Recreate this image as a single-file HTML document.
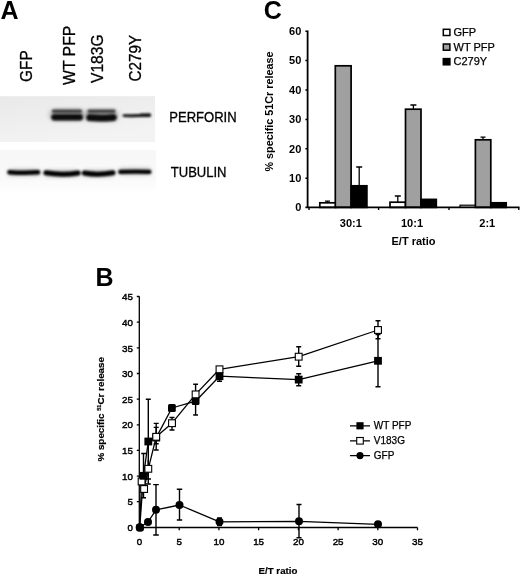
<!DOCTYPE html>
<html><head><meta charset="utf-8"><title>Figure</title>
<style>
html,body{margin:0;padding:0;background:#fff;}
svg{display:block}
text{font-family:"Liberation Sans",Arial,sans-serif;fill:#000}
.b{font-weight:bold}
</style></head><body>
<svg width="520" height="577" viewBox="0 0 520 577">
<defs>
<filter id="bl" x="-20%" y="-100%" width="140%" height="300%"><feGaussianBlur stdDeviation="0.9"/></filter>
<filter id="bl2" x="-20%" y="-100%" width="140%" height="300%"><feGaussianBlur stdDeviation="0.6"/></filter>
<filter id="tb" x="-5%" y="-5%" width="110%" height="110%"><feGaussianBlur stdDeviation="0.35"/></filter>
<filter id="bl3" x="-30%" y="-200%" width="160%" height="500%"><feGaussianBlur stdDeviation="2"/></filter>
<linearGradient id="gp" x1="0" y1="0" x2="0.4" y2="1"><stop offset="0" stop-color="#e9e9e9"/><stop offset="1" stop-color="#f3f3f3"/></linearGradient>
<linearGradient id="gt" x1="0" y1="0" x2="0" y2="1"><stop offset="0" stop-color="#f7f7f7"/><stop offset="0.7" stop-color="#fafafa"/><stop offset="1" stop-color="#ffffff"/></linearGradient>
</defs>
<rect width="520" height="577" fill="#fff"/>

<!-- ===== Panel A ===== -->
<g id="panelA" filter="url(#tb)">
<text class="b" x="0.6" y="18.7" font-size="25">A</text>
<text transform="translate(31.5,82) rotate(-90) scale(0.93,1)" font-size="16.6" stroke="#000" stroke-width="0.3">GFP</text>
<text transform="translate(74.5,85) rotate(-90) scale(0.95,1)" font-size="16.6" stroke="#000" stroke-width="0.3">WT PFP</text>
<text transform="translate(103,83) rotate(-90) scale(0.94,1)" font-size="16.6" stroke="#000" stroke-width="0.3">V183G</text>
<text transform="translate(141,81.5) rotate(-90) scale(0.92,1)" font-size="16.6" stroke="#000" stroke-width="0.3">C279Y</text>
<text transform="translate(169.3,122.1) scale(0.945,1)" font-size="13.8" stroke="#000" stroke-width="0.3">PERFORIN</text>
<text transform="translate(170.8,176.7) scale(0.945,1)" font-size="13.8" stroke="#000" stroke-width="0.3">TUBULIN</text>
</g>
<g id="blots">
<rect x="0" y="96.2" width="155" height="45.8" fill="url(#gp)"/>
<rect x="0" y="150" width="156" height="44" fill="url(#gt)"/>
<g filter="url(#bl3)" opacity="0.22" stroke="#000" stroke-linecap="round" fill="none">
<path d="M55 115 H79.5 M90 115.4 H113" stroke-width="12"/>
<path d="M11 172.5 H37 M48 173.5 H76 M86 173.5 H111 M122 171.6 H148" stroke-width="7"/>
</g>
<g filter="url(#bl)" stroke-linecap="round" fill="none">
<path d="M53.5 111.2 H80.5 M89 111.2 H114" stroke="#3d3d3d" stroke-width="3.4"/>
<path d="M54.5 117.2 H79.8" stroke="#080808" stroke-width="6.4"/>
<path d="M89.8 117.6 Q100 118.6 113.2 117.4" stroke="#080808" stroke-width="7"/>
<path d="M124 115.6 Q137 116 149.5 115" stroke="#0c0c0c" stroke-width="2.9"/>
<path d="M141 115.3 H149.3" stroke="#0c0c0c" stroke-width="3.6"/>
<path d="M9.5 172.2 Q24 173.2 38 172.3" stroke="#050505" stroke-width="4.6"/>
<path d="M46 172.8 Q62 175.6 78 173" stroke="#050505" stroke-width="5.2"/>
<path d="M84.3 173 Q98 175.4 113 172.8" stroke="#050505" stroke-width="5"/>
<path d="M120.3 171.9 Q135 171.5 149.3 171.9" stroke="#050505" stroke-width="4.3"/>
</g>
</g>

<!-- ===== Panel C ===== -->
<g id="panelC" filter="url(#tb)">
<text class="b" x="263.7" y="18.8" font-size="25">C</text>
<g class="b" font-size="11" text-anchor="end">
<text x="301.3" y="34.9">60</text>
<text x="301.3" y="64.3">50</text>
<text x="301.3" y="93.7">40</text>
<text x="301.3" y="123.1">30</text>
<text x="301.3" y="152.5">20</text>
<text x="301.3" y="181.9">10</text>
<text x="301.3" y="211.3">0</text>
</g>
<text class="b" transform="translate(273.2,171.5) rotate(-90)" font-size="10.8">% specific 51Cr release</text>
<g class="b" font-size="11" text-anchor="middle">
<text x="350.8" y="227">30:1</text>
<text x="412" y="227">10:1</text>
<text x="487.3" y="227">2:1</text>
<text x="413.5" y="244.5">E/T ratio</text>
</g>
<g font-size="11" stroke="#000" stroke-width="0.25">
<text x="453.5" y="35.8">GFP</text>
<text x="453.5" y="50.6">WT PFP</text>
<text x="453.5" y="65.4">C279Y</text>
</g>
<g stroke="#000" stroke-width="1.3" fill="none">
<!-- error bars -->
<path d="M327.5 202.5 V201.2 M325 201.2 H330"/>
<path d="M359.2 185.5 V167 M356.2 167 H362.2"/>
<path d="M397.8 202 V196 M394.8 196 H400.8"/>
<path d="M413.4 109 V105 M410.4 105 H416.4"/>
<path d="M483 139.5 V137.2 M480.5 137.2 H485.5"/>
</g>
<g stroke="#000" stroke-width="1.7" fill="none">
<!-- bars group 1 -->
<rect x="319.8" y="202.8" width="15.9" height="4.6" fill="#fff"/>
<rect x="335.3" y="65.8" width="15.8" height="141.6" fill="#a0a0a0"/>
<rect x="351.3" y="185.8" width="15.6" height="21.6" fill="#000"/>
<!-- group 2 -->
<rect x="390" y="202.2" width="15.5" height="5.2" fill="#fff"/>
<rect x="405.5" y="109.2" width="15.5" height="98.2" fill="#a0a0a0"/>
<rect x="421" y="199.4" width="15.3" height="8" fill="#000"/>
<!-- group 3 -->
<rect x="460" y="205.2" width="15.4" height="2.2" fill="#fff" stroke-width="1.2"/>
<rect x="475.4" y="139.8" width="15.4" height="67.6" fill="#a0a0a0"/>
<rect x="490.8" y="202.8" width="15.4" height="4.6" fill="#000"/>
</g>
<g stroke="#000" stroke-width="1.8" fill="none">
<!-- axes -->
<path d="M307.6 30.6 V207.3 M305.4 207.3 H519.5"/>
<path d="M305.4 31.2 H307.4 M305.4 60.6 H307.4 M305.4 90 H307.4 M305.4 119.4 H307.4 M305.4 148.8 H307.4 M305.4 178.2 H307.4" stroke-width="1.5"/>
<path d="M309 207.4 V210 M378.6 207.4 V210 M449 207.4 V210 M518.8 207.4 V210" stroke-width="1.4"/>
</g>
<g stroke="#000" stroke-width="1.5" fill="none">
<!-- legend -->
<rect x="443.3" y="29.3" width="6.6" height="6.2" fill="#fff"/>
<rect x="443.3" y="44" width="6.6" height="6.2" fill="#a0a0a0"/>
<rect x="443.3" y="58.6" width="6.6" height="6.2" fill="#000"/>
</g>
</g>

<!-- ===== Panel B ===== -->
<g id="panelB" filter="url(#tb)">
<text class="b" x="95.5" y="286" font-size="25">B</text>
<g font-size="9.8" text-anchor="end" stroke="#000" stroke-width="0.45">
<text x="133" y="300.2">45</text>
<text x="133" y="325.8">40</text>
<text x="133" y="351.5">35</text>
<text x="133" y="377.1">30</text>
<text x="133" y="402.8">25</text>
<text x="133" y="428.4">20</text>
<text x="133" y="454.1">15</text>
<text x="133" y="479.7">10</text>
<text x="133" y="505.4">5</text>
<text x="133" y="531">0</text>
</g>
<g font-size="9.8" text-anchor="middle" stroke="#000" stroke-width="0.45">
<text x="139.5" y="545.4">0</text>
<text x="179.2" y="545.4">5</text>
<text x="218.9" y="545.4">10</text>
<text x="258.6" y="545.4">15</text>
<text x="298.4" y="545.4">20</text>
<text x="338.1" y="545.4">25</text>
<text x="377.8" y="545.4">30</text>
<text x="417.5" y="545.4">35</text>
</g>
<text class="b" x="278" y="574.1" font-size="9.7" text-anchor="middle" stroke="#000" stroke-width="0.2">E/T ratio</text>
<text class="b" transform="translate(103.6,461.6) rotate(-90)" font-size="9.85" stroke="#000" stroke-width="0.2">% specific <tspan font-size="5.5" dy="-3.1">51</tspan><tspan dy="3.1">Cr release</tspan></text>
<g font-size="10" stroke="#000" stroke-width="0.25">
<text x="373.8" y="429.4">WT PFP</text>
<text x="373.8" y="444.3">V183G</text>
<text x="373.8" y="459.2">GFP</text>
</g>
<g stroke="#000" stroke-width="1.3" fill="none">
<!-- axes -->
<path d="M139.3 296.3 V527.5 H417.5"/>
<path d="M136.8 296.5 H139.3 M136.8 322.2 H139.3 M136.8 347.8 H139.3 M136.8 373.5 H139.3 M136.8 399.1 H139.3 M136.8 424.8 H139.3 M136.8 450.4 H139.3 M136.8 476.1 H139.3 M136.8 501.7 H139.3 M136.8 527.5 H139.3"/>
<path d="M179.2 527.5 V530.2 M218.9 527.5 V530.2 M258.6 527.5 V530.2 M298.4 527.5 V530.2 M338.1 527.5 V530.2 M377.8 527.5 V530.2 M417.5 527.5 V530.2"/>
</g>
<g stroke="#000" stroke-width="1.4" fill="none">
<!-- error bars: WT PFP -->
<path d="M148.3 399.3 V484 M145.8 399.3 H150.8 M145.8 484 H150.8"/>
<path d="M143.5 453.5 V497.7 M141.2 453.5 H146 M141.2 497.7 H146"/>
<path d="M156.2 427.4 V443.8 M153.7 427.4 H158.7 M153.7 443.8 H158.7"/>
<path d="M195.6 384.3 V415 M193.2 384.3 H198 M193.2 415 H198"/>
<path d="M219.5 372 V381.3 M217 381.3 H222"/>
<path d="M298.7 373.7 V385.8 M296.2 373.7 H301.2 M296.2 385.8 H301.2"/>
<path d="M378 334.6 V386.8 M375.5 334.6 H380.5 M375.5 386.8 H380.5"/>
<!-- V183G -->
<path d="M156.2 423.4 V450 M153.7 423.4 H158.7 M153.7 450 H158.7"/>
<path d="M172 417.5 V430 M169.5 417.5 H174.5 M169.5 430 H174.5"/>
<path d="M298.7 346.8 V366.3 M296.2 346.8 H301.2 M296.2 366.3 H301.2"/>
<path d="M378 320.8 V338.8 M375.5 320.8 H380.5 M375.5 338.8 H380.5"/>
<path d="M148.3 460 V479 M146 479 H151"/>
<!-- GFP -->
<path d="M156 484.6 V535 M153.2 484.6 H158.8 M153.2 535 H158.8"/>
<path d="M179.5 489.3 V520 M176.8 489.3 H182.2 M176.8 520 H182.2"/>
<path d="M219.5 518 V525.5 M217 518 H222 M217 525.5 H222"/>
<path d="M299 504.5 V537.8 M296.5 504.5 H301.5 M296.5 537.8 H301.5"/>
</g>
<g stroke="#000" stroke-width="1.3" fill="none" stroke-linejoin="round">
<!-- lines -->
<polyline points="139.7,527.4 143.5,475.8 148.3,441.5 156.2,437.6 171.9,408 195.6,401.2 219.5,376.2 298.7,379.6 378,360.8"/>
<polyline points="139.7,527.4 141.6,481.5 144.1,489 148.3,468.8 156.2,436.8 172,423.2 195.6,394.4 219.5,369.3 298.7,356.7 378,330"/>
<polyline points="139.7,527.4 148,522 156,509.8 179.5,505 219.5,521.8 299,521.3 378,524.3"/>
</g>
<g stroke="#000" stroke-width="1.1">
<!-- GFP markers -->
<g fill="#000" stroke="none">
<circle cx="139.8" cy="527.4" r="4.1"/>
<circle cx="148" cy="522" r="4"/>
<circle cx="156" cy="509.8" r="4"/>
<circle cx="179.5" cy="505" r="4"/>
<circle cx="219.5" cy="521.8" r="4"/>
<circle cx="299" cy="521.3" r="4"/>
<circle cx="378" cy="524.3" r="4"/>
</g>
<rect x="138.2" y="478.1" width="6.8" height="6.8" fill="#fff"/>
<!-- WT PFP markers -->
<g fill="#000" stroke="none">
<rect x="136.2" y="523.7" width="7.6" height="7.8" rx="2"/>
<rect x="139.6" y="471.9" width="7.8" height="7.8"/>
<rect x="144.4" y="437.6" width="7.8" height="7.8"/>
<rect x="152.3" y="433.7" width="7.8" height="7.8"/>
<rect x="168" y="404.1" width="7.8" height="7.8" rx="1.5"/>
<rect x="191.7" y="397.3" width="7.8" height="7.8" rx="1.5"/>
<rect x="215.6" y="372.3" width="7.8" height="7.8"/>
<rect x="294.8" y="375.7" width="7.8" height="7.8"/>
<rect x="374.1" y="356.9" width="7.8" height="7.8"/>
</g>
<!-- V183G markers -->
<g fill="#fff">
<rect x="140.7" y="485.6" width="6.8" height="6.8"/>
<rect x="144.9" y="465.4" width="6.8" height="6.8"/>
<rect x="152.8" y="433.4" width="6.8" height="6.8"/>
<rect x="168.6" y="419.8" width="6.8" height="6.8"/>
<rect x="192.2" y="391" width="6.8" height="6.8"/>
<rect x="216.1" y="365.9" width="6.8" height="6.8"/>
<rect x="295.3" y="353.3" width="6.8" height="6.8"/>
<rect x="374.6" y="326.6" width="6.8" height="6.8"/>
</g>
<!-- legend -->
<path d="M350 425.8 H370 M350 440.8 H370 M350 455.6 H370" stroke-width="1.2"/>
<rect x="356.4" y="422.2" width="7.2" height="7.2" fill="#000" stroke="none"/>
<rect x="356.7" y="437.5" width="6.6" height="6.6" fill="#fff"/>
<circle cx="360" cy="455.6" r="3.6" fill="#000" stroke="none"/>
</g>
</g>
</svg>
</body></html>
